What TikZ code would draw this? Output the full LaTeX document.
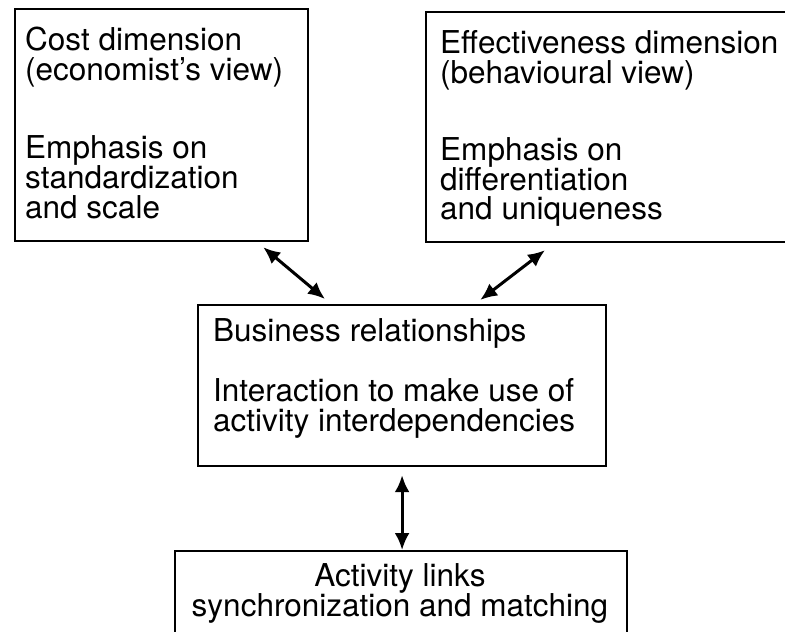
\documentclass[tikz,border=0pt]{standalone}
\usepackage{fontspec}
\setmainfont{TeX Gyre Heros}
\usetikzlibrary{arrows.meta}

\tikzset{
  box/.style={draw, line width=2.2pt, rectangle, inner sep=0pt, anchor=north west},
  txt/.style={inner sep=0pt, anchor=base west, font=\fontsize{31.5}{30}\selectfont},
  ctxt/.style={txt, anchor=base},
  link/.style={line width=3pt, {Latex[length=17pt,width=15pt]}-{Latex[length=17pt,width=15pt]}}
}

\begin{document}
\begin{tikzpicture}[x=1pt, y=-1pt]
  \clip (0,0) rectangle (785,632);
  \fill[white] (0,0) rectangle (785,632);

  % boxes
  \node[box, minimum width=293pt, minimum height=232pt] (cost) at (14,8) {};
  \node[box, minimum width=360pt, minimum height=230pt] (eff) at (425,11) {};
  \node[box, minimum width=408pt, minimum height=161pt] (bus) at (197,304) {};
  \node[box, minimum width=452pt, minimum height=110pt] (act) at (174,550) {};

  % cost dimension
  \node[txt] (c1) at (25,50) {Cost dimension};
  \node[txt] (c2) at (25,80) {(economist’s view)};
  \node[txt] (c3) at (25,158) {Emphasis on};
  \node[txt] (c4) at (25,188) {standardization};
  \node[txt] (c5) at (25,218) {and scale};

  % effectiveness dimension
  \node[txt] (e1) at (440,53) {Effectiveness dimension};
  \node[txt] (e2) at (440,83) {(behavioural view)};
  \node[txt] (e3) at (440,160) {Emphasis on};
  \node[txt] (e4) at (440,190) {differentiation};
  \node[txt] (e5) at (440,219) {and uniqueness};

  % business relationships
  \node[txt] (b1) at (213,341) {Business relationships};
  \node[txt] (b2) at (213,401) {Interaction to make use of};
  \node[txt] (b3) at (213,431) {activity interdependencies};

  % activity links
  \node[ctxt] (l1) at (400,586) {Activity links};
  \node[ctxt] (l2) at (400,616) {synchronization and matching};

  % connector end points just off the box edges
  \coordinate (costEnd) at ([xshift=-46pt, yshift=-5pt]cost.south east);
  \coordinate (busL)    at ([xshift=128pt, yshift=5pt]bus.north west);
  \coordinate (effEnd)  at ([xshift=120pt, yshift=-7pt]eff.south west);
  \coordinate (busR)    at ([xshift=-127pt, yshift=4pt]bus.north east);
  \coordinate (busB)    at ([yshift=-8pt]bus.south);
  \coordinate (actT)    at (bus.south |- act.north);

  \draw[link] (costEnd) -- (busL);
  \draw[link] (effEnd) -- (busR);
  \draw[link] (busB) -- (actT);
\end{tikzpicture}
\end{document}
